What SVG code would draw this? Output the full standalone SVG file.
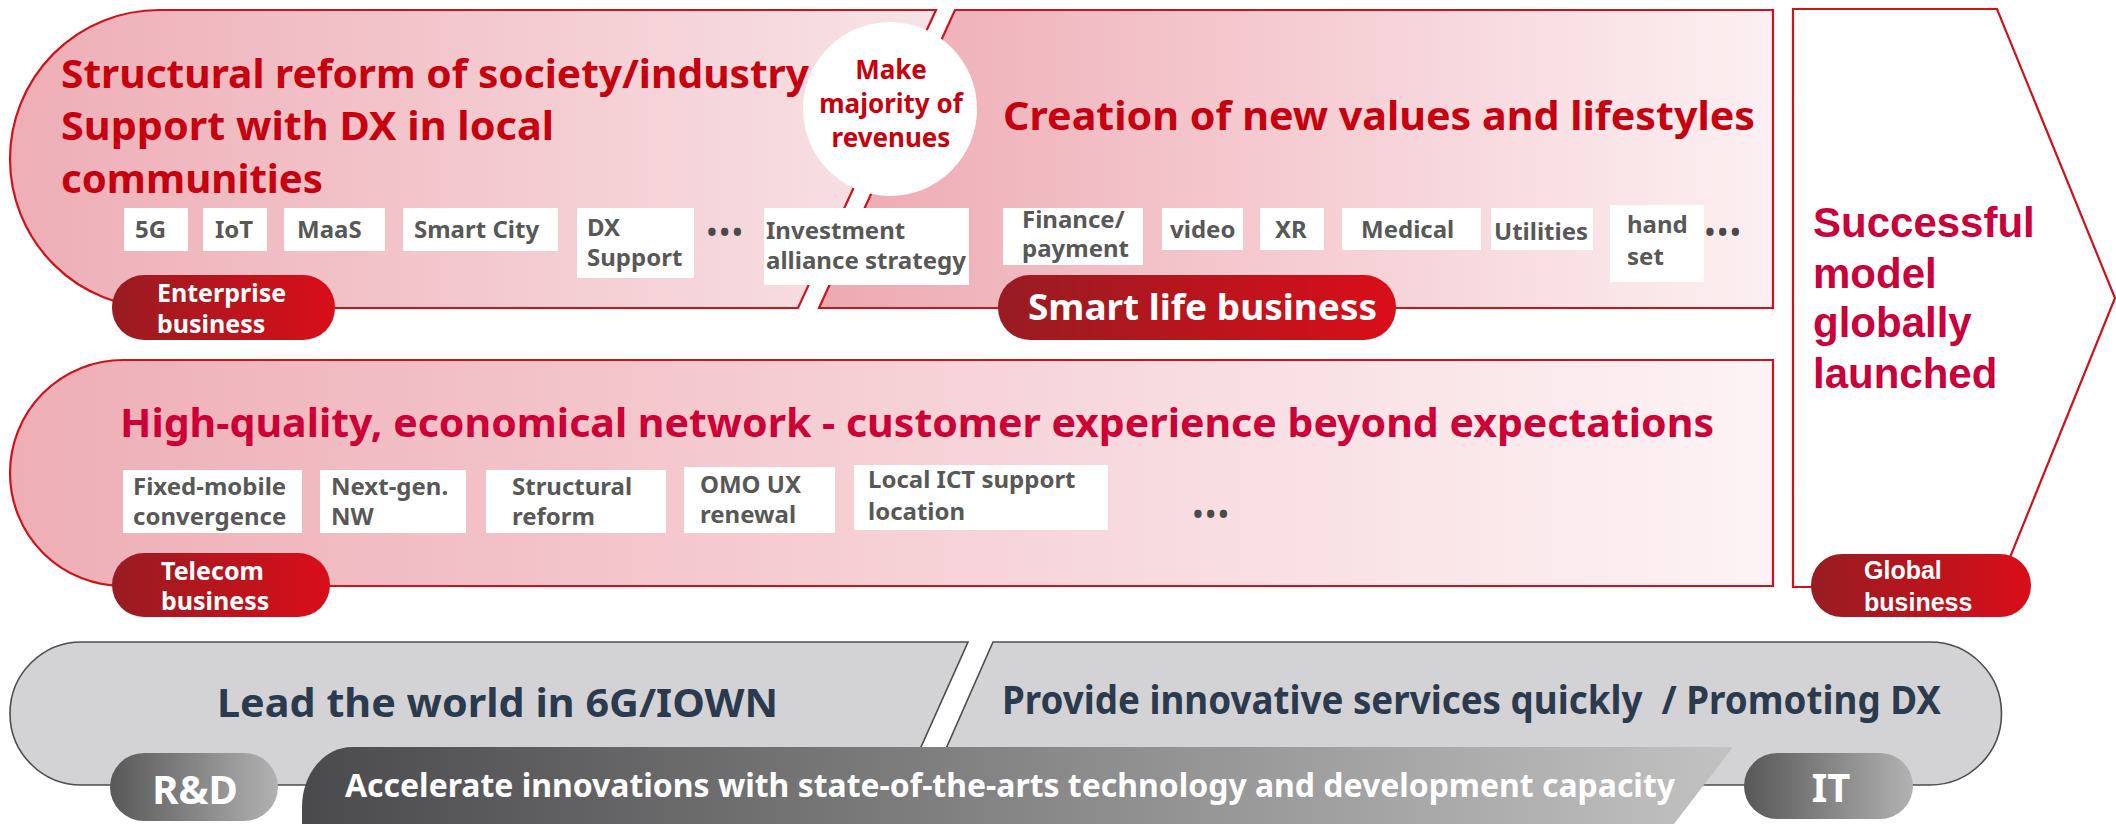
<svg xmlns="http://www.w3.org/2000/svg" width="2116" height="824" viewBox="0 0 2116 824">
<defs>
<linearGradient id="gEnt" x1="0" y1="0" x2="1" y2="0"><stop offset="0" stop-color="#eeaeb6"/><stop offset="1" stop-color="#f8e3e6"/></linearGradient>
<linearGradient id="gSmart" x1="0" y1="0" x2="1" y2="0"><stop offset="0" stop-color="#eea9b2"/><stop offset="1" stop-color="#fcf0f2"/></linearGradient>
<linearGradient id="gTel" x1="0" y1="0" x2="1" y2="0"><stop offset="0" stop-color="#eeaeb6"/><stop offset="1" stop-color="#fdf3f5"/></linearGradient>
<linearGradient id="gRed" x1="0" y1="0" x2="1" y2="0"><stop offset="0" stop-color="#981c22"/><stop offset="1" stop-color="#d90e19"/></linearGradient>
<linearGradient id="gGrayPill" x1="0" y1="0" x2="1" y2="0"><stop offset="0" stop-color="#585858"/><stop offset="1" stop-color="#b2b2b2"/></linearGradient>
<linearGradient id="gBand" x1="0" y1="0" x2="1" y2="0"><stop offset="0" stop-color="#4a4a4c"/><stop offset="1" stop-color="#c2c2c2"/></linearGradient>
<style>
.redshape{stroke:#d0121c;stroke-width:2.2}
.grayshape{fill:#d3d3d6;stroke:#4d4d4d;stroke-width:1.6}
.head{font-family:"Noto Sans","Liberation Sans",sans-serif;font-weight:700;font-size:40px}
.hred{fill:#c6000f}
.hcrim{fill:#cc0036}
.box{fill:#ffffff}
.item{font-family:"Noto Sans","Liberation Sans",sans-serif;font-weight:700;font-size:24px;fill:#585858}
.dots{font-family:"Noto Sans","Liberation Sans",sans-serif;font-weight:700;font-size:26px;fill:#4a4a4a;letter-spacing:3px}
.pilltxt{font-family:"Noto Sans","Liberation Sans",sans-serif;font-weight:700;font-size:25px;fill:#ffffff}
.circ{font-family:"Noto Sans","Liberation Sans",sans-serif;font-weight:700;font-size:26px;fill:#c8000c}
.glob{font-family:"Liberation Sans",Arial,sans-serif;font-weight:700;font-size:42px;fill:#c9003a}
.navy{font-family:"Noto Sans","Liberation Sans",sans-serif;font-weight:700;font-size:39px;fill:#2c3a4e}
.wtxt{font-family:"Noto Sans","Liberation Sans",sans-serif;font-weight:700;fill:#ffffff}
</style>
</defs>
<rect width="2116" height="824" fill="#ffffff"/>

<g id="enterprise">
<path class="redshape" fill="url(#gEnt)" d="M159,10 L936,10 L798,308 L159,308 A149,149 0 0 1 10,159 A149,149 0 0 1 159,10 Z"/>
<text class="head hred" x="61" y="88" textLength="748" lengthAdjust="spacingAndGlyphs">Structural reform of society/industry</text>
<text class="head hred" x="61" y="140" textLength="493" lengthAdjust="spacingAndGlyphs">Support with DX in local</text>
<text class="head hred" x="61" y="193" textLength="262" lengthAdjust="spacingAndGlyphs">communities</text>
</g>

<g id="smartlife">
<path class="redshape" fill="url(#gSmart)" d="M955,10 L1773,10 L1773,308 L819,308 Z"/>
<text class="head hred" x="1003" y="130" textLength="752" lengthAdjust="spacingAndGlyphs">Creation of new values and lifestyles</text>
</g>

<g id="majority">
<circle cx="890" cy="109" r="87" fill="#ffffff"/>
<text class="circ" x="891" y="79" text-anchor="middle">Make</text>
<text class="circ" x="891" y="113" text-anchor="middle">majority of</text>
<text class="circ" x="891" y="147" text-anchor="middle">revenues</text>
</g>

<g id="enterprise-items">
<rect class="box" x="124" y="208" width="64" height="43"/><text class="item" x="135" y="238">5G</text>
<rect class="box" x="203" y="208" width="64" height="43"/><text class="item" x="215" y="238">IoT</text>
<rect class="box" x="284" y="208" width="101" height="43"/><text class="item" x="297" y="238">MaaS</text>
<rect class="box" x="403" y="208" width="155" height="43"/><text class="item" x="414" y="238">Smart City</text>
<rect class="box" x="577" y="208" width="117" height="70"/><text class="item" x="587" y="236">DX</text><text class="item" x="587" y="266">Support</text>
<text class="dots" x="707" y="242">•••</text>
<rect class="box" x="764" y="208" width="205" height="77"/><text class="item" x="766" y="239">Investment</text><text class="item" x="766" y="269" textLength="200" lengthAdjust="spacingAndGlyphs">alliance strategy</text>
</g>

<g id="smartlife-items">
<rect class="box" x="1003" y="208" width="140" height="57"/><text class="item" x="1022" y="228">Finance/</text><text class="item" x="1022" y="257">payment</text>
<rect class="box" x="1162" y="208" width="81" height="42"/><text class="item" x="1170" y="238">video</text>
<rect class="box" x="1260" y="208" width="64" height="42"/><text class="item" x="1275" y="238">XR</text>
<rect class="box" x="1342" y="208" width="139" height="42"/><text class="item" x="1361" y="238">Medical</text>
<rect class="box" x="1491" y="208" width="102" height="42"/><text class="item" x="1494" y="240">Utilities</text>
<rect class="box" x="1610" y="205" width="94" height="77"/><text class="item" x="1627" y="233">hand</text><text class="item" x="1627" y="265">set</text>
<text class="dots" x="1705" y="242">•••</text>
</g>

<g id="enterprise-pill">
<rect x="112" y="275" width="223" height="65" rx="32" fill="url(#gRed)"/>
<text class="pilltxt" x="157" y="302">Enterprise</text>
<text class="pilltxt" x="157" y="333">business</text>
</g>

<g id="smartlife-pill">
<rect x="998" y="275" width="398" height="65" rx="32" fill="url(#gRed)"/>
<text class="wtxt" x="1028" y="320" font-size="35" textLength="349" lengthAdjust="spacingAndGlyphs">Smart life business</text>
</g>

<g id="telecom">
<path class="redshape" fill="url(#gTel)" d="M123,360 L1773,360 L1773,586 L123,586 A113,113 0 0 1 10,473 A113,113 0 0 1 123,360 Z"/>
<text class="head hcrim" x="120" y="437" textLength="1594" lengthAdjust="spacingAndGlyphs">High-quality, economical network - customer experience beyond expectations</text>
<rect class="box" x="123" y="470" width="179" height="63"/><text class="item" x="133" y="495">Fixed-mobile</text><text class="item" x="133" y="525">convergence</text>
<rect class="box" x="320" y="470" width="146" height="63"/><text class="item" x="331" y="495">Next-gen.</text><text class="item" x="331" y="525">NW</text>
<rect class="box" x="486" y="470" width="180" height="63"/><text class="item" x="512" y="495">Structural</text><text class="item" x="512" y="525">reform</text>
<rect class="box" x="684" y="467" width="151" height="66"/><text class="item" x="700" y="493">OMO UX</text><text class="item" x="700" y="523">renewal</text>
<rect class="box" x="854" y="465" width="254" height="65"/><text class="item" x="868" y="488">Local ICT support</text><text class="item" x="868" y="520">location</text>
<text class="dots" x="1193" y="524">•••</text>
</g>

<g id="telecom-pill">
<rect x="112" y="553" width="218" height="64" rx="32" fill="url(#gRed)"/>
<text class="pilltxt" x="161" y="580">Telecom</text>
<text class="pilltxt" x="161" y="610">business</text>
</g>

<g id="global">
<path class="redshape" fill="#ffffff" d="M1793,9 L1997,9 L2115,298 L1998,587 L1793,587 Z"/>
<text class="glob" x="1813" y="237">Successful</text>
<text class="glob" x="1813" y="288">model</text>
<text class="glob" x="1813" y="337">globally</text>
<text class="glob" x="1813" y="388">launched</text>
</g>

<g id="global-pill">
<rect x="1811" y="554" width="220" height="63" rx="31" fill="url(#gRed)"/>
<text x="1864" y="579" font-family="Liberation Sans, Arial, sans-serif" font-weight="700" font-size="25" fill="#ffffff">Global</text>
<text x="1864" y="611" font-family="Liberation Sans, Arial, sans-serif" font-weight="700" font-size="25" fill="#ffffff">business</text>
</g>

<g id="rnd-area">
<path class="grayshape" d="M82,642 L968,642 L904,785 L82,785 A71.5,71.5 0 0 1 10,713.5 A71.5,71.5 0 0 1 82,642 Z"/>
<text class="navy" x="217" y="717" textLength="561" lengthAdjust="spacingAndGlyphs">Lead the world in 6G/IOWN</text>
</g>

<g id="it-area">
<path class="grayshape" d="M993,642 L1930,642 A71.5,71.5 0 0 1 1930,785 L930,785 Z"/>
<text class="navy" x="1002" y="714" textLength="939" lengthAdjust="spacingAndGlyphs" xml:space="preserve">Provide innovative services quickly  / Promoting DX</text>
</g>

<g id="accelerate">
<path fill="url(#gBand)" d="M352,747 L1733,747 L1674,824 L302,824 L302,807 A50,60 0 0 1 352,747 Z"/>
<text class="wtxt" x="345" y="797" font-size="33" textLength="1330" lengthAdjust="spacingAndGlyphs">Accelerate innovations with state-of-the-arts technology and development capacity</text>
</g>

<g id="rnd-pill">
<rect x="110" y="753" width="168" height="68" rx="34" fill="url(#gGrayPill)"/>
<text class="wtxt" x="195" y="804" font-size="40" text-anchor="middle">R&amp;D</text>
</g>

<g id="it-pill">
<rect x="1744" y="753" width="169" height="66" rx="33" fill="url(#gGrayPill)"/>
<text class="wtxt" x="1831" y="802" font-size="40" text-anchor="middle">IT</text>
</g>

<g id="connectors"></g>
</svg>
